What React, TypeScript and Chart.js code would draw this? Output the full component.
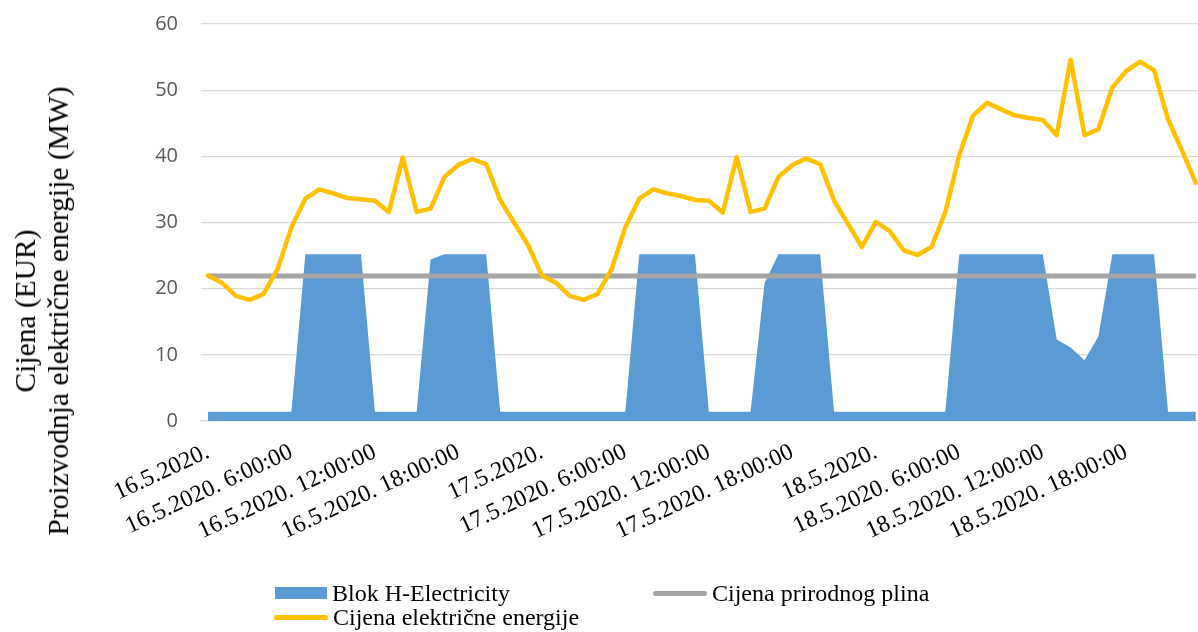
import React, { useEffect, useRef } from 'react';
import Chart from 'chart.js/auto';

// hourly categories, 16.5.2020. 0:00 – 18.5.2020. 23:00
const days = ['16.5.2020.', '17.5.2020.', '18.5.2020.'];
const hours = Array.from({ length: 24 }, (_, h) => h);
const categories = days.flatMap((d) => hours.map((h) => (h === 0 ? d : `${d} ${h}:00:00`)));

const tickLabels = [
  '16.5.2020.', '16.5.2020. 6:00:00', '16.5.2020. 12:00:00', '16.5.2020. 18:00:00',
  '17.5.2020.', '17.5.2020. 6:00:00', '17.5.2020. 12:00:00', '17.5.2020. 18:00:00',
  '18.5.2020.', '18.5.2020. 6:00:00', '18.5.2020. 12:00:00', '18.5.2020. 18:00:00',
];

const blokH = [
  1.4, 1.4, 1.4, 1.4, 1.4, 1.4, 1.4, 25.2, 25.2, 25.2, 25.2, 25.2,
  1.4, 1.4, 1.4, 1.4, 24.4, 25.2, 25.2, 25.2, 25.2, 1.4, 1.4, 1.4,
  1.4, 1.4, 1.4, 1.4, 1.4, 1.4, 1.4, 25.2, 25.2, 25.2, 25.2, 25.2,
  1.4, 1.4, 1.4, 1.4, 20.8, 25.2, 25.2, 25.2, 25.2, 1.4, 1.4, 1.4,
  1.4, 1.4, 1.4, 1.4, 1.4, 1.4, 25.2, 25.2, 25.2, 25.2, 25.2, 25.2,
  25.2, 12.3, 11.1, 9.2, 12.8, 25.2, 25.2, 25.2, 25.2, 1.4, 1.4, 1.4,
];

const gasPrice = [
  21.9, 21.9, 21.9, 21.9, 21.9, 21.9, 21.9, 21.9, 21.9, 21.9, 21.9, 21.9,
  21.9, 21.9, 21.9, 21.9, 21.9, 21.9, 21.9, 21.9, 21.9, 21.9, 21.9, 21.9,
  21.9, 21.9, 21.9, 21.9, 21.9, 21.9, 21.9, 21.9, 21.9, 21.9, 21.9, 21.9,
  21.9, 21.9, 21.9, 21.9, 21.9, 21.9, 21.9, 21.9, 21.9, 21.9, 21.9, 21.9,
  21.9, 21.9, 21.9, 21.9, 21.9, 21.9, 21.9, 21.9, 21.9, 21.9, 21.9, 21.9,
  21.9, 21.9, 21.9, 21.9, 21.9, 21.9, 21.9, 21.9, 21.9, 21.9, 21.9, 21.9,
];

const electricityPrice = [
  22.0, 20.9, 18.9, 18.3, 19.2, 22.9, 29.3, 33.6, 35.0, 34.4, 33.7, 33.5,
  33.3, 31.6, 39.8, 31.6, 32.1, 36.9, 38.7, 39.6, 38.8, 33.4, 30.0, 26.6,
  22.0, 20.9, 18.9, 18.3, 19.2, 22.9, 29.3, 33.6, 35.0, 34.4, 34.0, 33.4,
  33.3, 31.5, 39.9, 31.6, 32.1, 36.9, 38.7, 39.7, 38.8, 33.3, 29.8, 26.3,
  30.1, 28.7, 25.8, 25.1, 26.3, 31.6, 40.2, 46.2, 48.1, 47.1, 46.2, 45.8,
  45.5, 43.2, 54.6, 43.2, 44.1, 50.4, 52.9, 54.3, 53.0, 45.6, 40.9, 36.0,
];

const BLUE = '#5B9BD5';
const GRAY = '#A5A5A5';
const YELLOW = '#FFC000';
const SERIF = "'Liberation Serif', 'Times New Roman', serif";

const legendItems = [
  { label: 'Blok H-Electricity', color: BLUE, kind: 'box', left: 275, top: 581 },
  { label: 'Cijena prirodnog plina', color: GRAY, kind: 'line', left: 653, top: 581 },
  { label: 'Cijena električne energije', color: YELLOW, kind: 'line', left: 274, top: 605 },
];

const App = () => {
  const chartRef = useRef<HTMLCanvasElement>(null);
  const chartInstance = useRef<Chart | null>(null);

  useEffect(() => {
    if (!chartRef.current) return;
    if (chartInstance.current) chartInstance.current.destroy();

    chartInstance.current = new Chart(chartRef.current, {
      type: 'line',
      data: {
        labels: categories,
        datasets: [
          {
            label: 'Cijena električne energije',
            data: electricityPrice,
            borderColor: YELLOW,
            borderWidth: 4.5,
            borderJoinStyle: 'round',
            borderCapStyle: 'round',
            pointRadius: 0,
            tension: 0,
            fill: false,
            order: 0,
          },
          {
            label: 'Cijena prirodnog plina',
            data: gasPrice,
            borderColor: GRAY,
            borderWidth: 5,
            pointRadius: 0,
            tension: 0,
            fill: false,
            order: 1,
          },
          {
            label: 'Blok H-Electricity',
            data: blokH,
            borderWidth: 0,
            borderColor: BLUE,
            backgroundColor: BLUE,
            pointRadius: 0,
            tension: 0,
            fill: 'origin',
            order: 2,
          },
        ],
      },
      options: {
        responsive: true,
        maintainAspectRatio: false,
        animation: false,
        layout: { padding: { top: 24, left: 0, right: 0, bottom: 0 } },
        plugins: {
          legend: { display: false },
          tooltip: { enabled: false },
        },
        scales: {
          x: {
            offset: true,
            grid: { display: false, drawTicks: false },
            border: { display: true, color: '#D9D9D9', width: 1.3 },
            afterFit: (s: any) => { s.height = 211; },
            ticks: {
              autoSkip: false,
              maxRotation: 25,
              minRotation: 25,
              padding: 17,
              color: '#000000',
              font: { family: SERIF, size: 24 },
              callback: (_v: any, i: number) => (tickLabels.includes(categories[i]) ? categories[i] : ''),
            },
          },
          y: {
            min: 0,
            max: 60,
            grid: { color: '#D9D9D9', lineWidth: 1.3, drawTicks: false },
            border: { display: false },
            afterFit: (s: any) => {
              s.width = 201;
              s.paddingTop = 12;
              s.paddingBottom = 12;
            },
            ticks: {
              stepSize: 10,
              padding: 23,
              color: '#595959',
              font: { family: "'Open Sans', sans-serif", size: 20 },
            },
          },
        },
      },
    });

    return () => {
      if (chartInstance.current) {
        chartInstance.current.destroy();
        chartInstance.current = null;
      }
    };
  }, []);

  return (
    <div style={{ position: 'fixed', left: 0, top: 0, width: '100vw', height: '100vh', overflow: 'hidden', background: '#fff' }}>
      <div style={{ position: 'absolute', left: 0, top: 0, width: 1225, height: 632 }}>
        <canvas ref={chartRef}></canvas>
      </div>
      <div
        style={{
          position: 'absolute',
          left: 42,
          top: 311,
          transform: 'translate(-50%, -50%) rotate(-90deg)',
          fontFamily: SERIF,
          fontSize: 29.5,
          lineHeight: '33px',
          textAlign: 'center',
          whiteSpace: 'nowrap',
          color: '#000',
        }}
      >
        <div>Cijena (EUR)</div>
        <div>Proizvodnja električne energije (MW)</div>
      </div>
      {legendItems.map((item) => (
        <div
          key={item.label}
          style={{
            position: 'absolute',
            left: item.left,
            top: item.top,
            height: 24,
            display: 'flex',
            alignItems: 'center',
            fontFamily: SERIF,
            fontSize: 24,
            lineHeight: '24px',
            whiteSpace: 'nowrap',
            color: '#000',
          }}
        >
          <span
            style={{
              display: 'inline-block',
              width: item.kind === 'box' ? 52 : 54,
              height: item.kind === 'box' ? 12 : 5,
              borderRadius: item.kind === 'box' ? 0 : 3,
              background: item.color,
              marginRight: 5,
            }}
          />
          <span>{item.label}</span>
        </div>
      ))}
    </div>
  );
};

export default App;
